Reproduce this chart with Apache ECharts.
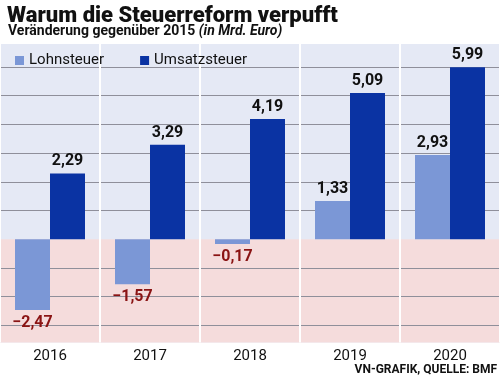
<!DOCTYPE html>
<html><head><meta charset="utf-8">
<script src="https://cdn.jsdelivr.net/npm/echarts@6/dist/echarts.min.js"></script>
<style>html,body{margin:0;padding:0;background:#fff}#c{width:500px;height:383px}</style>
</head><body><div id="c"></div>
<script>
const categories = ['2016', '2017', '2018', '2019', '2020'];
const lohnsteuer = [-2.47, -1.57, -0.17, 1.33, 2.93];
const umsatzsteuer = [2.29, 3.29, 4.19, 5.09, 5.99];
const seriesNames = ['Lohnsteuer', 'Umsatzsteuer'];
const titleText = 'Warum die Steuerreform verpufft';
const subtitleMain = 'Veränderung gegenüber 2015 ';
const subtitleUnit = '(in Mrd. Euro)';
const sourceText = 'VN-GRAFIK, QUELLE: BMF';
const yMin = -3.6, yMax = 6.8;

const fmt = v => (v < 0 ? '\u2212' : '') + Math.abs(v).toFixed(2).replace('.', ',');
const labelCfg = {
  show: true,
  fontFamily: 'Roboto', fontWeight: 'bold', fontSize: 16,
  formatter: p => fmt(p.value),
};
function dataWithLabels(arr) {
  return arr.map(v => ({
    value: v,
    label: v < 0 ? { position: 'bottom', distance: 5, color: '#8a1414' } : { position: 'top', distance: 4, color: '#111' }
  }));
}
const G = '#8f8f9a';
const chart = echarts.init(document.getElementById('c'), null, { renderer: 'canvas' });
chart.setOption({
  animation: false,
  backgroundColor: '#fff',
  title: [
    { text: titleText, left: 2, top: 0,
      textStyle: { fontFamily: 'Roboto', fontWeight: 900, fontSize: 22, color: '#111' } },
    { text: '{a|' + subtitleMain + '}{b|' + subtitleUnit + '}', left: 3, top: 19,
      textStyle: { rich: {
        a: { fontFamily: 'Roboto', fontSize: 14, color: '#111' },
        b: { fontFamily: 'Roboto', fontSize: 14, fontStyle: 'italic', color: '#111' } } } },
    { text: sourceText, right: -2, bottom: 2,
      textStyle: { fontFamily: 'Roboto', fontWeight: 'bold', fontSize: 12, color: '#111' } }
  ],
  legend: {
    data: seriesNames, left: 10, top: 48, icon: 'rect', itemWidth: 9, itemHeight: 9, itemGap: 36,
    textStyle: { fontFamily: 'Roboto', fontSize: 15, color: '#111' }
  },
  grid: { left: 0, right: 0, top: 44, bottom: 40.5, show: true, backgroundColor: '#e5e9f5', borderWidth: 0 },
  xAxis: {
    type: 'category', data: categories, z: 3,
    axisLine: { show: false }, axisTick: { show: false },
    axisLabel: { fontFamily: 'Roboto', fontSize: 15, color: '#111', margin: 6 },
    splitLine: { show: true, lineStyle: { color: '#ffffff', width: 2 } }
  },
  yAxis: {
    type: 'value', min: yMin, max: yMax, minInterval: 1, maxInterval: 1, z: 1.8,
    axisLabel: { show: false }, axisLine: { show: false }, axisTick: { show: false },
    splitLine: { show: true, showMinLine: false, showMaxLine: false,
      lineStyle: { color: [G, G, G, 'rgba(0,0,0,0)', G, G, G, G, G, G], width: 1 } }
  },
  series: [
    { name: seriesNames[0], type: 'bar', z: 2, data: dataWithLabels(lohnsteuer),
      barWidth: '35%', barGap: '0%', itemStyle: { color: '#7b97d6' }, label: labelCfg,
      markArea: { silent: true, z: 0.5, itemStyle: { color: '#f5dcdc' },
        data: [[{ yAxis: yMin }, { yAxis: 0 }]] } },
    { name: seriesNames[1], type: 'bar', z: 2, data: dataWithLabels(umsatzsteuer),
      barWidth: '35%', barGap: '0%', itemStyle: { color: '#0a33a3' }, label: labelCfg }
  ]
});
</script></body></html>
